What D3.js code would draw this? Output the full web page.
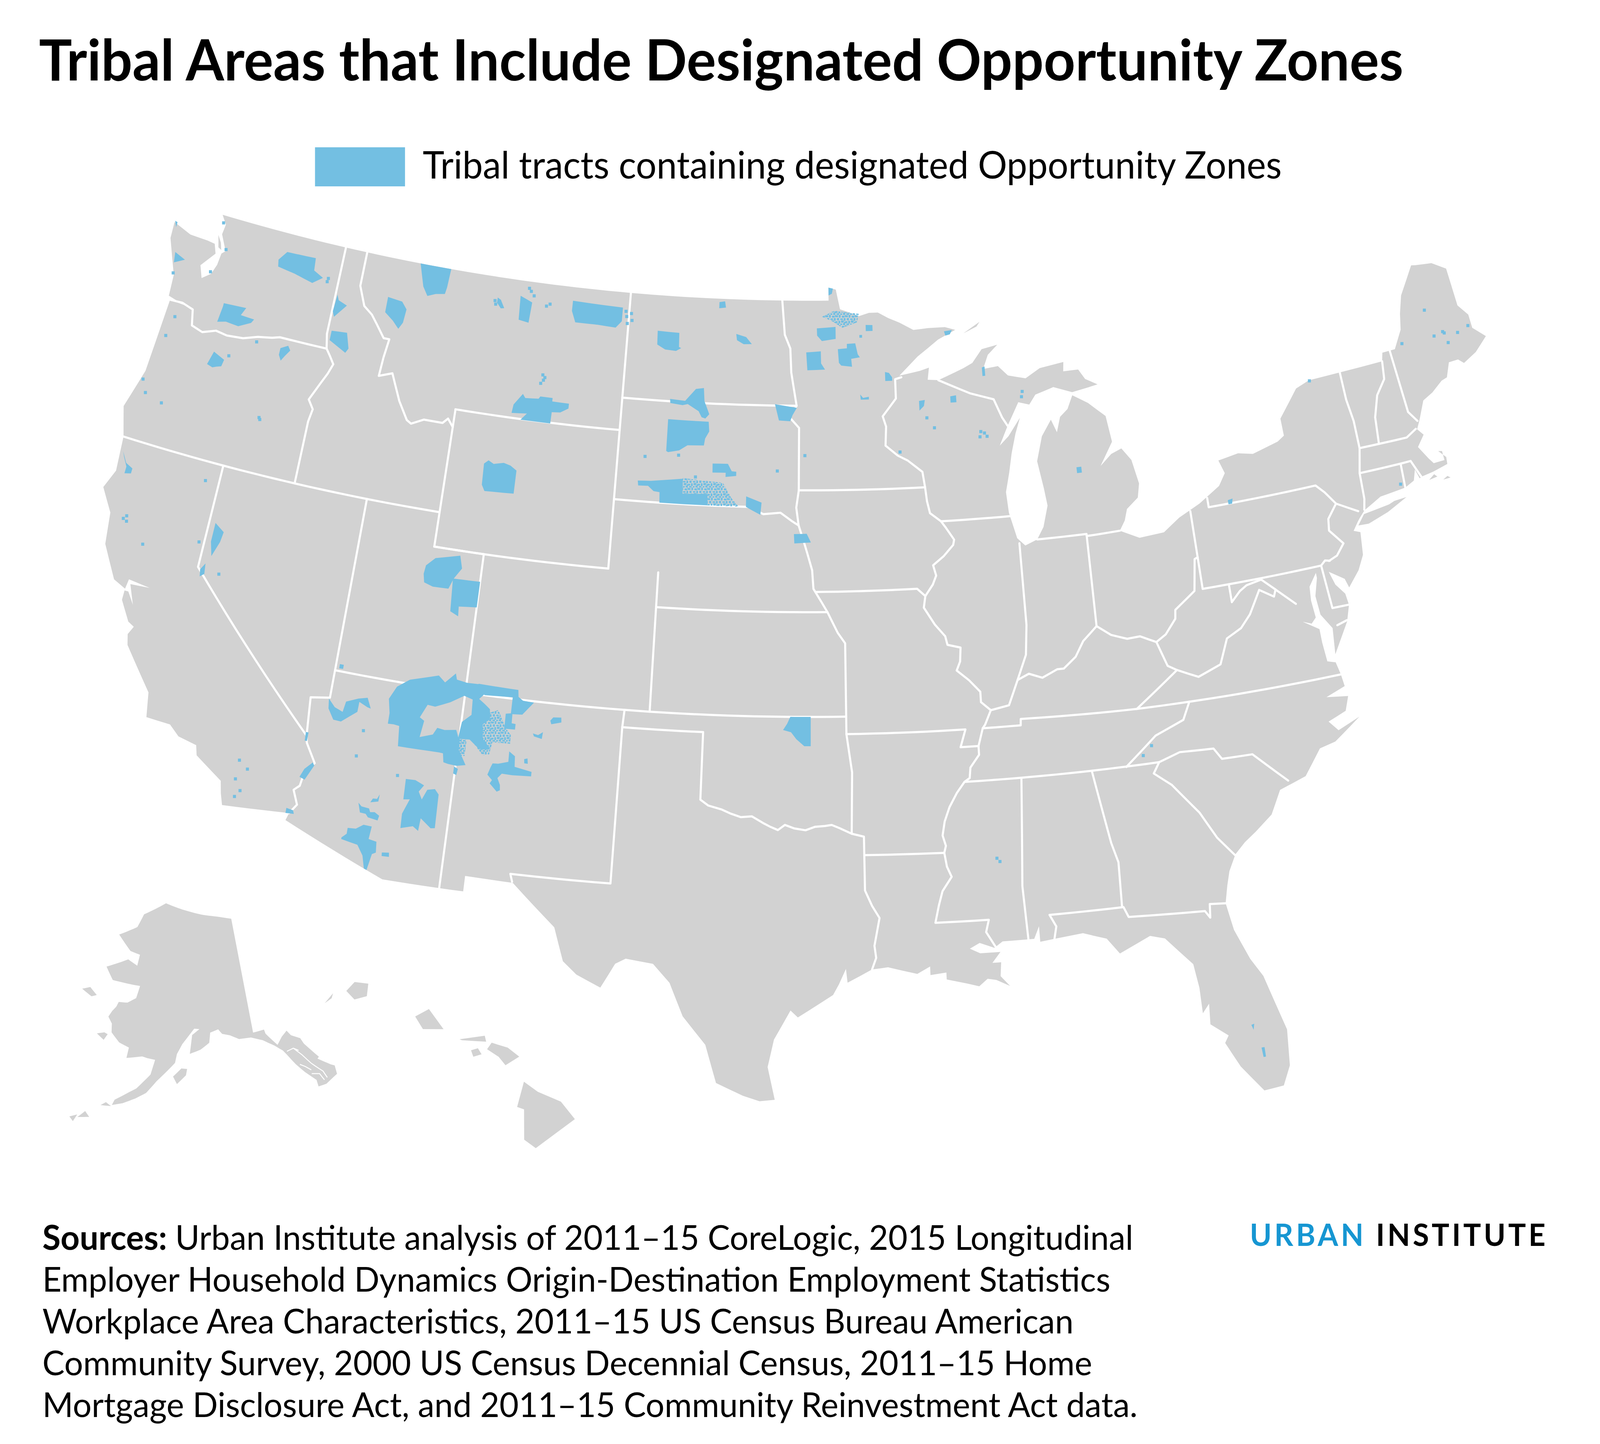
<!DOCTYPE html>
<html>
<head>
<meta charset="utf-8">
<script src="https://cdn.jsdelivr.net/npm/d3@7/dist/d3.min.js"></script>
<style>
  html, body { margin: 0; padding: 0; background: #fff; overflow: hidden; }
  svg { display: block; }
  text { font-family: Lato, sans-serif; fill: #000; }
</style>
</head>
<body>
<div id="chart"></div>
<script>
const width = 4231, height = 3696;

// lon/lat outlines
const land48 = [
  [[-122.76,49],[-117.03,49],[-116.05,49],[-111,49],[-104.05,49],[-97.23,49],[-95.15,49],[-95.15,49.38],[-94.82,49.32],[-94.64,48.74],[-94.25,48.65],[-93.8,48.53],[-93.35,48.62],[-92.95,48.62],[-92.5,48.45],[-92,48.3],[-91.4,48.07],[-90.75,48.1],[-90,48.1],[-89.55,48],
   [-90.33,47.75],[-91.27,47.29],[-92.1,46.76],[-91.2,46.87],[-90.8,46.95],[-90.88,46.6],[-90.42,46.57],[-89.3,46.87],[-88.9,47],[-88.45,47.38],[-87.75,47.47],[-88.2,47.2],[-88.45,46.8],[-87.8,46.85],[-87.4,46.55],[-86.65,46.42],[-86,46.67],[-84.95,46.77],[-85,46.5],[-84.35,46.5],[-84.1,46.2],[-83.6,46],[-84,45.95],[-84.72,45.87],
   [-85.5,46.08],[-86.3,45.92],[-86.6,45.65],[-87.06,45.75],[-87.6,45.1],[-88,44.55],[-87.6,44.8],[-87.05,45.3],[-87.3,44.85],[-87.53,44.3],[-87.7,43.75],[-87.9,43.2],[-87.85,42.6],[-87.6,41.85],[-87.3,41.62],[-86.8,41.76],[-86.5,42.1],[-86.25,42.7],[-86.33,43.2],[-86.5,44],[-86.2,44.7],[-85.75,45.15],[-85.55,44.77],[-85.35,45.2],[-85,45.4],[-84.73,45.78],
   [-84.1,45.5],[-83.43,45.06],[-83.3,44.3],[-83.9,43.65],[-83.4,43.95],[-82.95,44.07],[-82.6,43.7],[-82.42,43],[-82.55,42.6],[-83.05,42.32],[-83.2,42],[-83.45,41.73],[-82.7,41.45],[-81.7,41.5],[-81,41.85],[-80.1,42.15],[-79.2,42.55],[-78.88,42.88],[-79.05,43.27],[-78.2,43.37],[-77.6,43.27],[-76.5,43.47],[-76.2,43.6],[-76.2,44.1],[-75.3,44.85],[-74.7,45],[-73.35,45.01],[-71.5,45.01],
   [-71.4,45.25],[-70.85,45.25],[-70.4,45.75],[-70.25,46.2],[-70,46.7],[-69.23,47.46],[-69.05,47.43],[-68.35,47.35],[-67.8,47.07],[-67.78,45.95],[-67.45,45.6],[-67.45,45.2],[-67,44.85],
   [-67.6,44.5],[-68.2,44.3],[-68.4,44.45],[-68.8,44.45],[-69.05,44.05],[-69.3,44],[-69.8,43.75],[-70.25,43.6],[-70.6,43.1],[-70.8,42.85],[-70.6,42.65],[-70.95,42.35],[-70.65,41.95],[-70.5,41.78],[-70.05,41.78],[-70.05,42.05],[-70.2,42.08],[-69.95,41.85],[-69.98,41.65],[-70.6,41.55],[-71.1,41.5],[-71.2,41.47],[-71.3,41.75],[-71.45,41.45],[-71.85,41.32],[-72.9,41.25],[-73.65,40.98],[-73.9,40.8],[-74.02,40.7],
   [-74.25,40.48],[-74,40.4],[-74.1,39.75],[-74.4,39.35],[-74.9,38.93],[-75,39.2],[-75.55,39.5],[-75.4,39.1],[-75.1,38.78],[-75.05,38.45],[-75.25,38],[-75.95,37.15],[-75.85,37.9],[-76.2,38.35],[-76.25,38.9],[-76.05,39.4],[-76.05,39.55],[-76.4,39.2],[-76.45,38.8],[-76.4,38.3],[-76.6,38.15],[-77.2,38.35],[-77.05,38.75],[-77.1,38.35],[-76.35,37.95],[-76.35,37.55],[-76.3,37],[-76,36.92],[-75.9,36.55],[-75.85,36.2],[-76.6,36],[-75.8,35.9],[-76,35.5],[-76.7,35.3],[-76.4,35],[-75.55,35.25],[-76.6,34.7],[-77.2,34.6],[-77.9,33.9],[-78.9,33.65],[-79.35,33],[-80,32.6],[-80.45,32.35],[-80.85,32.05],[-81.15,31.6],[-81.3,31.2],[-81.45,30.7],
   [-81.3,29.9],[-80.9,29],[-80.55,28.45],[-80.05,26.8],[-80.15,25.75],[-80.45,25.2],[-81.1,25.15],[-81.75,25.95],[-82.15,26.7],[-82,26.9],[-82.55,27.3],[-82.5,27.9],[-82.75,27.65],[-82.75,28.4],[-82.85,29.1],[-83.7,29.95],[-84.2,30.08],[-85.3,29.68],[-85.7,30.15],[-86.5,30.38],[-87.5,30.3],[-88,30.25],[-88,30.7],[-88.2,30.35],[-89.3,30.35],[-89.6,30.18],[-90.1,30.35],[-90.45,30.2],[-90.1,30.05],[-89.4,30.05],[-89.7,29.75],[-89.4,29.75],[-89.45,29.35],[-89.15,29.05],[-89.6,29.25],[-89.9,29.3],[-90.2,29.1],[-90.6,29.2],[-91.3,29.35],[-91.3,29.55],[-91.85,29.5],[-91.85,29.75],[-92.3,29.55],[-93.3,29.77],[-93.85,29.72],[-94.7,29.35],[-94.75,29.75],[-95,29.3],[-95.2,29],[-96.4,28.35],[-96.65,28.55],[-97.2,27.7],[-97.4,26.9],[-97.15,25.95],
   [-97.65,25.9],[-98.2,26.05],[-99.1,26.4],[-99.5,27.5],[-100.3,28.3],[-100.8,29.25],[-101.4,29.77],[-102.35,29.87],[-102.7,29.7],[-103.15,28.98],[-104,29.3],[-104.5,29.65],[-104.9,30.6],[-106.5,31.75],[-108.2,31.78],[-108.2,31.33],[-111.07,31.33],[-114.8,32.5],[-114.72,32.72],[-117.12,32.53],
   [-117.25,32.85],[-117.35,33.2],[-118.4,33.75],[-118.5,34.03],[-119.2,34.15],[-119.6,34.42],[-120.5,34.45],[-120.65,35.15],[-121.85,36.3],[-121.95,36.6],[-121.8,36.85],[-122.05,36.95],[-122.5,37.5],[-122.5,37.78],[-122.35,37.78],[-122.05,37.45],[-122.35,38],[-121.6,38.05],[-122.45,38.12],[-122.5,37.83],[-123,38],[-123.7,38.9],[-123.85,39.8],[-124.4,40.44],[-124.1,41],[-124.2,42],[-124.55,42.84],[-124.1,44],[-123.95,46.18],[-123.3,46.15],[-124.05,46.28],[-124.1,46.9],[-124.7,47.9],[-124.73,48.38],[-123.9,48.17],[-123.1,48.15],[-122.75,48.12],[-122.6,47.85],[-123.1,47.4],[-122.9,47.05],[-122.55,47.25],[-122.4,47.55],[-122.35,47.9],[-122.2,48],[-122.55,48.45],[-122.5,48.75]],
  [[-74.02,40.6],[-73.6,40.58],[-72.75,40.77],[-71.9,41.05],[-72.4,41.03],[-72.65,40.97],[-73.7,40.88]],
  [[-89.2,47.88],[-88.45,48.18],[-88.6,48.05]],
  [[-122.7,48.4],[-122.5,48.2],[-122.4,48],[-122.55,48.05]],
  [[-70.85,41.35],[-70.5,41.38],[-70.6,41.47]],
  [[-70.3,41.25],[-70,41.25],[-70.1,41.32]]
];

const stateBorders = [
  [[-123.95,46.18],[-123.4,46.2],[-122.9,46.1],[-122.75,45.65],[-122.25,45.55],[-121.7,45.7],[-121.2,45.65],[-120.5,45.7],[-119.9,45.85],[-119.3,45.93],[-118.98,46],[-116.92,46]],
  [[-117.03,49],[-117.04,46.42],[-116.92,46]],
  [[-116.92,46],[-116.7,45.8],[-116.5,45.6],[-116.65,45.3],[-116.85,45],[-117.2,44.45],[-116.95,44.2],[-117.03,43.83],[-117.03,42]],
  [[-116.05,49],[-116.05,48],[-115.7,47.45],[-115.3,47.25],[-115,47],[-114.6,46.65],[-114.35,46.65],[-114.45,46.1],[-114.5,45.55],[-113.95,45.7],[-113.75,45.4],[-113.45,44.95],[-113,44.45],[-112.8,44.37],[-112.3,44.55],[-111.5,44.55],[-111.3,44.7],[-111.05,44.48]],
  [[-111.05,45],[-111.05,41]],[[-111.05,45],[-104.05,45]],[[-111.05,41],[-104.05,41]],[[-104.05,49],[-104.05,41]],
  [[-124.2,42],[-111.05,42]],[[-111.05,41],[-109.05,41],[-109.05,31.33]],
  [[-120,42],[-120,39],[-114.63,35]],[[-114.04,42],[-114.04,36.2],[-114.75,36.1],[-114.63,35]],
  [[-114.63,35],[-114.57,34.8],[-114.15,34.27],[-114.45,34],[-114.53,33.55],[-114.72,33.4],[-114.5,33],[-114.72,32.72]],
  [[-114.04,37],[-94.62,37]],[[-103,37],[-103.04,36.5],[-103.06,32],[-106.62,32],[-106.53,31.78]],
  [[-103.04,36.5],[-100,36.5],[-100,34.56],[-99.7,34.4],[-99.2,34.3],[-98.9,34.2],[-98.5,34.1],[-98.1,34.13],[-97.7,33.95],[-97.45,33.85],[-97.15,33.75],[-96.9,33.9],[-96.55,33.8],[-96.15,33.75],[-95.8,33.85],[-95.45,33.87],[-95.2,33.9],[-94.9,33.8],[-94.48,33.64],[-94.04,33.55],[-94.04,32],[-93.8,31.55],[-93.55,31.2],[-93.75,30.4],[-93.7,30.05],[-93.85,29.72]],
  [[-94.48,33.64],[-94.43,35.4],[-94.62,36.5],[-94.62,39.1],[-94.9,39.4],[-95.3,40]],
  [[-94.62,36.5],[-90.15,36.5],[-90.37,36],[-89.7,36]],
  [[-102.05,41],[-102.05,37]],[[-102.05,40],[-95.3,40]],
  [[-104.05,43],[-98.5,43],[-97.9,42.8],[-97.2,42.85],[-96.7,42.6],[-96.45,42.49]],[[-104.05,45.94],[-96.56,45.94]],
  [[-97.23,49],[-97.1,48],[-96.85,47.6],[-96.8,46.9],[-96.56,45.94],[-96.85,45.6],[-96.45,45.3],[-96.45,43.5],[-96.55,43],[-96.45,42.49],[-96.25,42.05],[-96.1,41.7],[-95.9,41.2],[-95.85,40.67],[-95.5,40.25],[-95.3,40]],
  [[-95.77,40.58],[-91.73,40.6],[-91.42,40.38]],[[-96.45,43.5],[-91.22,43.5]],
  [[-92.02,46.71],[-92.29,46.66],[-92.29,46.1],[-92.88,45.6],[-92.75,45.3],[-92.8,44.75],[-92.3,44.45],[-91.9,44.3],[-91.3,43.95],[-91.22,43.5],[-91.17,43.1],[-91.07,42.75],[-90.64,42.5],[-90.45,42.3],[-90.15,41.95],[-90.2,41.8],[-90.6,41.5],[-91.05,41.25],[-90.95,40.95],[-91.1,40.7],[-91.42,40.38],[-91.5,40.05],[-91.1,39.55],[-90.72,39.2],[-90.65,38.95],[-90.15,38.85],[-90.2,38.45],[-90.35,38.2],[-89.9,37.9],[-89.5,37.55],[-89.5,37.25],[-89.15,37],[-89.4,36.6],[-89.5,36.5],[-89.7,36],[-89.7,35.75],[-90.05,35.4],[-90.1,35.1],[-90.3,35],[-90.6,34.7],[-90.9,34.3],[-91.1,33.9],[-91.2,33.5],[-91.1,33.2],[-91.17,33],[-91.1,32.6],[-90.95,32.3],[-91.3,31.9],[-91.45,31.5],[-91.6,31],[-89.73,31],[-89.85,30.65],[-89.55,30.2]],
  [[-90.64,42.5],[-87.8,42.5]],[[-90.42,46.57],[-89.1,46.13],[-88.1,45.9],[-87.8,45.35],[-87.6,45.1]],
  [[-87.53,41.7],[-87.53,39.35],[-87.65,38.5],[-88.05,37.8],[-88.45,37.1],[-89.15,37]],
  [[-86.8,41.76],[-84.8,41.76],[-84.82,39.1]],[[-84.8,41.7],[-83.45,41.73]],
  [[-88.05,37.8],[-87.6,37.95],[-87.1,37.8],[-86.5,38],[-86.25,38],[-85.75,38.3],[-85.4,38.72],[-84.82,39.1],[-84.3,38.8],[-83.7,38.63],[-83.2,38.65],[-82.6,38.42],[-82.2,38.6],[-81.75,39],[-81.7,39.25],[-80.85,39.7],[-80.65,40.6],[-80.52,40.64]],
  [[-82.6,38.42],[-82.3,37.7],[-81.97,37.54],[-83.67,36.6]],
  [[-89.5,36.5],[-88.07,36.5],[-88.05,36.68],[-83.67,36.6],[-75.87,36.55]],
  [[-81.68,36.59],[-82,36.1],[-83.1,35.77],[-84.32,34.99]],
  [[-90.3,35],[-83.1,35]],[[-94.04,33.02],[-91.17,33]],
  [[-88.2,35],[-88.47,31.9],[-88.4,30.3]],
  [[-85.6,35],[-85.18,32.87],[-85,32.3],[-85.05,31]],[[-87.5,30.3],[-87.4,30.65],[-87.6,31],[-85,31],[-84.86,30.7],[-82.2,30.57],[-82.05,30.36],[-82,30.75],[-81.45,30.7]],
  [[-83.1,35],[-83.35,34.7],[-82.75,34.3],[-81.9,33.4],[-81.4,32.6],[-80.87,32.03]],
  [[-83.1,35],[-82.3,35.2],[-81.05,35.15],[-80.8,34.82],[-79.67,34.8],[-78.55,33.87]],
  [[-81.97,37.54],[-81.2,37.25],[-80.3,37.5],[-79.9,38.2],[-79.3,38.42],[-78.87,38.76],[-78.35,39.4],[-77.83,39.13],[-77.72,39.32],[-77.05,38.8]],
  [[-77.72,39.32],[-78.2,39.68],[-78.8,39.6],[-79.1,39.47],[-79.48,39.2],[-79.48,39.72]],
  [[-80.52,41.98],[-80.52,39.72],[-75.79,39.72]],
  [[-79.76,42.27],[-79.76,42],[-75.35,42],[-75.05,41.75],[-74.7,41.36],[-75.13,40.98],[-75.2,40.65],[-74.75,40.2],[-75.1,39.9],[-75.45,39.8]],
  [[-74.7,41.36],[-73.9,41]],[[-75.42,39.8],[-75.6,39.84],[-75.79,39.72],[-75.7,38.46],[-75.05,38.45]],[[-75.65,37.95],[-75.25,38.03]],
  [[-73.35,45.01],[-73.35,44.2],[-73.25,43.55],[-73.27,42.75],[-73.5,42.05],[-73.55,41.3],[-73.65,41]],
  [[-71.5,45.01],[-71.6,44.5],[-72.05,44.1],[-72.35,43.5],[-72.46,42.73]],
  [[-71.08,45.3],[-70.98,43.4],[-70.7,43.08]],[[-73.27,42.75],[-71.3,42.7],[-70.85,42.87]],
  [[-73.5,42.05],[-71.8,42.02],[-71.38,42.02],[-71.12,41.5]],[[-71.8,42.02],[-71.85,41.32]]
];

const alaskaLand = [
  [[-141,69.65],[-141,60.3],[-139.1,60.35],[-139,60],[-137.5,58.9],[-136.5,59.45],[-135.5,59.8],[-135,59.35],[-133.7,58.9],[-133.4,58.4],[-131.8,57],[-132.1,56.9],[-130.5,56.1],[-130,55.9],[-130.1,55.2],[-131,55],[-132,54.75],[-133.2,54.75],[-133.2,55.3],[-134.5,56.2],[-135.5,57],[-136.4,57.9],[-136.9,58.35],[-138,58.9],[-139.7,59.55],[-141.5,59.95],[-143.5,60],[-144.9,60.4],[-146.2,60.6],[-146.8,61],[-148.2,60.8],[-148.5,60],[-150,59.5],[-151.8,59.2],[-151.6,59.8],[-151.3,60.7],[-150,61.15],[-150.9,61.2],[-151.8,60.7],[-153,60],[-153.9,59.2],[-154.2,58.5],[-155.5,57.8],[-157,57],[-158.5,56],[-160,55.5],[-161.8,55],[-163.3,54.75],[-163,55.2],[-161,55.95],[-160,56.3],[-158,57.5],[-157.4,58.7],[-158.7,58.8],[-159.5,58.9],[-162,58.65],[-161.8,59.5],[-163.5,59.8],[-165,60.5],[-165.2,61.2],[-166,61.7],[-165.5,62.2],[-164.9,62.6],[-164.6,63],[-163,63.05],[-161.5,63.5],[-161,64.5],[-163,64.55],[-166.4,64.65],[-168.1,65.6],[-164,66.5],[-162,66.1],[-161.7,67],[-163.8,67.2],[-166.8,68.35],[-163,69.2],[-161.8,70.3],[-156.6,71.35],[-152.5,70.85],[-148,70.35],[-144,70]],
  [[-154.5,57.4],[-153.9,56.8],[-152.5,57.5],[-152.3,58],[-153.2,58.05]],
  [[-167.4,60.2],[-166.1,59.8],[-165.6,60.3],[-166.2,60.4]],
  [[-171.7,63.4],[-170.3,63.7],[-168.8,63.2],[-169.7,63]],
  [[-164.9,54.6],[-163.4,54.65],[-164.2,54.9]],
  [[-166.9,53.9],[-167.8,53.3],[-166.2,53.5]],
  [[-168.9,53.2],[-167.9,53.5],[-168.3,52.9]]
];
const alaskaChannels = [
  [[-135.2,58.3],[-134.2,57.6],[-133.2,56.7],[-131.9,55.8],[-131.6,55.2]],
  [[-136.3,58.2],[-135.2,58.3],[-134.5,58]],
  [[-134.9,56.9],[-134.2,56.6],[-133.5,56.2]],
  [[-133.6,55.9],[-132.5,55.7],[-132.1,55.1]]
];

const hawaiiLand = [
  [[-159.78,22.05],[-159.6,22.23],[-159.3,22.2],[-159.33,21.95],[-159.6,21.88]],
  [[-160.25,21.8],[-160.07,22],[-160.1,21.9]],
  [[-158.27,21.55],[-157.97,21.7],[-157.65,21.3],[-158.1,21.3]],
  [[-157.3,21.1],[-156.75,21.17],[-156.72,21.05],[-157.25,21.08]],
  [[-157.05,20.88],[-156.9,20.92],[-156.82,20.8],[-157,20.75]],
  [[-156.7,20.9],[-156.6,21.03],[-156.25,20.93],[-156,20.75],[-156.3,20.58],[-156.45,20.75]],
  [[-155.9,20.25],[-155.6,20.05],[-155.1,19.85],[-154.8,19.5],[-155.65,18.93],[-155.9,19.1],[-155.9,19.7],[-156.05,19.75]]
];

// areas with designated tracts; rings inside rings leave gaps (even-odd fill)
const tribalAreas = [
  // Navajo, with the gap that holds Hopi
  [[[-111.86,36.48],[-111.63,36.86],[-111.19,37.12],[-110.13,37.37],[-109.86,37.2],[-109.5,37.5],[-109.43,37.33],[-109.03,37.28],[-108.57,37.29],[-108.32,37.03],[-108.5,36.87],[-108.27,36.75],[-108.05,36.62],[-108,36.34],[-108.25,36.16],[-108.18,35.75],[-107.9,35.53],[-107.93,35.46],[-108.29,35.46],[-108.66,35.68],[-109.02,35.66],[-109.01,35.35],[-108.69,34.94],[-109.01,34.88],[-109.34,34.9],[-109.51,34.93],[-109.57,35.18],[-109.71,35.19],[-111.25,35.18],[-111.32,35.76],[-111.53,35.78],[-111.75,35.77],[-111.75,36.08]],
   [[-109.07,36.9],[-108.74,36.83],[-108.71,36.39],[-109.03,36.15],[-109.09,35.7],[-109.2,35.9],[-109.63,35.85],[-109.91,35.88],[-110.04,35.67],[-110.51,35.54],[-110.43,36.02],[-110.61,36.1],[-110.39,36.49],[-110.1,36.47],[-109.56,36.66]]],
  [[[-108.6,37.3],[-107.07,37.27],[-107.03,37.05],[-108.32,37]]],
  [[[-107.25,37.05],[-107.03,37.07],[-106.85,36.98],[-106.43,36.96],[-106.82,36.58],[-107.19,36.56],[-107.18,36.3],[-107.03,36.29],[-107.03,36.13],[-107.43,36.12],[-107.44,36.55],[-107.25,36.58]]],
  [[[-109.1,34.85],[-108.95,34.8],[-108.98,34.62],[-109.1,34.65]]],
  [[[-107.71,35.09],[-107.5,35.1],[-107.14,35.19],[-107.15,35.49],[-106.92,35.37],[-106.89,35.07],[-106.25,34.98],[-106.25,34.85],[-106.95,34.82],[-107.33,34.83],[-107.47,34.69],[-107.35,34.5],[-107.33,34.35],[-107.44,34.3],[-107.73,34.51],[-107.66,34.61],[-107.85,34.75],[-107.77,34.96]]],
  [[[-106.57,35.32],[-106.45,35.35],[-106.42,35.2],[-106.55,35.2]]],
  [[[-105.75,36.5],[-105.65,36.6],[-105.35,36.62],[-105.33,36.48],[-105.7,36.4]]],
  [[[-106.35,36.08],[-106.15,36.05],[-105.98,36.15],[-106,35.95],[-106.3,36]]],
  // Arizona
  [[[-114.07,36.17],[-113.8,35.96],[-113.48,35.87],[-113.42,36.18],[-112.98,36.33],[-112.65,36.4],[-112.47,36.11],[-112.6,36.13],[-112.93,36.24],[-112.94,35.95],[-113.48,35.59],[-113.77,35.6],[-114.02,35.89]]],
  [[[-110.78,34.29],[-110.43,34.3],[-110.09,34.19],[-110.25,33.99],[-110.1,33.78],[-109.95,34.08],[-109.68,34.13],[-109.52,33.99],[-109.49,33.02],[-109.64,33],[-110.04,33.24],[-110.07,32.87],[-110.28,32.98],[-110.71,32.87],[-110.73,33.29],[-110.53,33.73],[-110.76,33.7]]],
  [[[-111.92,33.46],[-111.85,33.58],[-111.7,33.59],[-111.63,33.73],[-111.64,33.52]]],
  [[[-112.34,33.39],[-112.21,33.3],[-111.93,33.28],[-111.87,33.18],[-111.71,33.2],[-111.53,33.12],[-111.56,32.98],[-111.92,33.02],[-112.02,33.11],[-112.23,33.12]]],
  [[[-112.57,32.62],[-112.28,32.64],[-112.03,32.79],[-111.73,32.78],[-111.77,32.41],[-111.48,32.37],[-111.44,32.06],[-111.57,32],[-111.67,31.52],[-111.77,31.55],[-111.89,31.91],[-112.13,32.19],[-112.73,32.27],[-112.73,32.32],[-112.57,32.45]]],
  [[[-111.23,32.09],[-110.98,32.12],[-110.96,32],[-111.22,31.99]]],
  [[[-114.22,34.28],[-114.15,34.2],[-114.4,33.75],[-114.6,33.8],[-114.48,34.05]]],
  [[[-114.85,32.85],[-114.6,32.82],[-114.55,32.72],[-114.85,32.7]]],
  [[[-114.68,35.1],[-114.58,35.1],[-114.58,34.85],[-114.66,34.85]]],
  [[[-113.9,37.2],[-113.75,37.2],[-113.75,37.08],[-113.9,37.08]]],
  // Utah, Nevada, California
  [[[-111.3,40.18],[-111.26,40.43],[-110.93,40.68],[-109.97,40.86],[-109.83,40.5],[-110.1,40.18],[-110.25,39.87],[-110.87,39.86],[-111.23,39.94]]],
  [[[-110.13,40.18],[-109.05,40.2],[-109.05,39.46],[-109.75,39.41],[-109.72,39.13],[-110.05,39.24]]],
  [[[-119.75,40.35],[-119.35,40.15],[-119.4,39.85],[-119.6,39.4],[-119.75,39.8]]],
  [[[-119.9,38.95],[-119.75,39.15],[-119.7,38.85],[-119.85,38.75]]],
  [[[-124.05,41.6],[-123.95,41.45],[-123.75,41.2],[-123.75,41],[-123.5,41.05],[-123.5,41.2],[-123.8,41.3]]],
  // Washington, Oregon, Idaho
  [[[-124.72,48.42],[-124.6,48.4],[-124.6,48.25]]],
  [[[-124.32,47.55],[-123.82,47.42],[-124.25,47.25]]],
  [[[-119.84,48.18],[-119.54,48.46],[-118.24,48.49],[-118.19,48.13],[-117.74,47.98],[-118.15,47.76],[-119,47.9],[-119.78,47.98]]],
  [[[-121.75,45.96],[-121.68,46.43],[-121.68,46.53],[-120.69,46.57],[-120.84,46.33],[-120.24,46.31],[-120.33,46.19],[-120.83,46],[-121.39,46.03]]],
  [[[-121.55,45.1],[-121.05,44.95],[-121.1,44.75],[-121.3,44.7],[-121.45,44.65],[-121.7,44.7]]],
  [[[-118.85,45.7],[-118.55,45.82],[-118.42,45.7],[-118.6,45.5],[-118.72,45.35],[-118.85,45.5]]],
  [[[-116.95,47.6],[-116.85,47.45],[-116.45,47.35],[-116.9,46.95],[-117,47.1]]],
  [[[-116.87,46.54],[-116.2,46.58],[-116,46.14],[-116.1,46],[-116.87,46.26]]],
  // Montana, Wyoming
  [[[-113.6,49],[-112.2,49],[-112.25,48.45],[-112.3,48.25],[-112.7,48.2],[-113.05,48.1],[-113.3,48.35]]],
  [[[-114.75,47.85],[-114.1,47.8],[-113.85,47.6],[-113.9,47.2],[-114.05,47],[-114.35,47.2],[-114.75,47.4]]],
  [[[-109.95,48.4],[-109.8,48.35],[-109.6,48.12],[-109.75,48.1],[-109.95,48.25]]],
  [[[-108.95,48.55],[-108.4,48.4],[-108.45,47.8],[-108.9,47.85]]],
  [[[-106.6,48.6],[-104.35,48.55],[-104.35,48.15],[-104.6,47.95],[-105.4,47.98],[-106.4,47.98],[-106.6,48.3]]],
  [[[-108.68,45.14],[-108.64,45.39],[-108.3,45.73],[-108.18,45.62],[-107.61,45.65],[-107.55,45.72],[-107.02,45.72],[-107.02,45.62],[-106.3,45.61],[-106.3,45.47],[-106.63,45.33],[-106.99,45.31],[-107,44.98],[-108.27,44.98],[-108.03,45.18]]],
  [[[-109.54,43.58],[-109.37,43.69],[-109.14,43.61],[-108.73,43.68],[-108.44,43.63],[-108.17,43.51],[-108.17,42.84],[-109.37,42.8],[-109.51,42.97]]],
  // Dakotas, Nebraska, Oklahoma
  [[[-102.73,47.96],[-101.77,47.94],[-101.75,47.53],[-101.65,47.5],[-101.87,47.41],[-102.35,47.43],[-102.71,47.56]]],
  [[[-99.25,47.99],[-98.81,47.91],[-98.55,47.71],[-98.91,47.7],[-99.21,47.81]]],
  [[[-100.05,48.9],[-99.8,48.93],[-99.75,48.75],[-100.05,48.72]]],
  [[[-102,46.01],[-101.35,45.98],[-100.91,46.34],[-100.57,46.38],[-100.52,46],[-100.29,45.63],[-100.45,45.5],[-100.61,45.53],[-100.75,45.7],[-101.23,45.89],[-101.45,45.85],[-101.98,45.89]]],
  [[[-102.03,45.42],[-100.3,45.41],[-100.26,45.13],[-100.42,44.92],[-100.46,44.72],[-101.15,44.7],[-101.49,44.54],[-101.95,44.47],[-102.03,44.5]]],
  [[[-100.06,44.21],[-99.42,44.22],[-99.25,44.01],[-99.06,44],[-99.06,43.88],[-99.5,43.84],[-99.5,43.96],[-100.05,43.95]]],
  [[[-103.13,43.59],[-102.59,43.61],[-101.27,43.73],[-101.25,43.3],[-100.22,43.33],[-100.2,43],[-102.18,43],[-102.2,43.3],[-102.45,43.32],[-102.69,43.46],[-103.1,43.45]]],
  [[[-98.62,43.3],[-97.98,43.13],[-98.02,42.78],[-98.41,42.92],[-98.62,43]]],
  [[[-97.49,45.98],[-96.55,45.88],[-96.73,45.67],[-96.83,45.49],[-97.31,45.51]]],
  [[[-96.64,42.24],[-96.12,42.25],[-95.95,42],[-96.62,41.97]]],
  [[[-96.73,37],[-95.96,37],[-95.96,36.16],[-96.2,36.16],[-96.5,36.36],[-96.7,36.56],[-97,36.62],[-96.85,36.8]]],
  // Minnesota, Wisconsin, Michigan
  [[[-96.15,47.49],[-95.51,47.52],[-95.5,47.17],[-95.33,46.99],[-96.1,46.97]]],
  [[[-95.68,48.19],[-94.85,48.23],[-94.85,47.88],[-95.46,47.82],[-95.67,47.98]]],
  [[[-94.76,47.58],[-94.36,47.6],[-94.36,47.73],[-93.99,47.74],[-93.89,47.42],[-93.8,47.33],[-94.18,47.29],[-94.15,47.06],[-94.62,47.1],[-94.72,47.18]]],
  [[[-93.51,48.27],[-93.21,48.26],[-93.21,48.09],[-93.51,48.09]]],
  [[[-93.8,47.98],[-93.68,47.98],[-93.68,47.9],[-93.8,47.9]]],
  [[[-90.05,47.98],[-89.7,48],[-89.8,47.88],[-90,47.85]]],
  [[[-92.72,46.88],[-92.55,46.85],[-92.42,46.72],[-92.42,46.62],[-92.72,46.62]]],
  [[[-93.82,46.25],[-93.8,46.1],[-93.45,46.1],[-93.45,46.18],[-93.7,46.15]]],
  [[[-95.15,49.38],[-94.95,49.35],[-95,49.2],[-95.15,49.15]]],
  [[[-91.3,46],[-91.05,46.02],[-91.1,45.85],[-91.3,45.72]]],
  [[[-89.95,46.08],[-89.7,46.1],[-89.7,45.9],[-89.95,45.9]]],
  [[[-88.5,46.85],[-88.38,46.87],[-88.38,46.6],[-88.5,46.6]]],
  [[[-84.9,43.7],[-84.7,43.7],[-84.7,43.53],[-84.9,43.53]]],
  // odd ones east and south
  [[[-78.95,42.1],[-78.75,42.12],[-78.8,41.98],[-78.95,41.98]]],
  [[[-80.98,26.4],[-80.88,26.4],[-80.88,26.12],[-80.96,26.12]]],
  [[[-81.2,27.1],[-81.1,27.12],[-81.15,26.95]]]
];

// areas where the tracts are a fine checkerboard
const speckledAreas = [
  [[-108.16,36.48],[-107.73,36.63],[-107.39,36.15],[-107.16,35.96],[-107.15,35.71],[-107.81,35.69],[-107.88,35.32],[-108.12,35.29],[-108.46,35.56],[-108.28,35.94]],
  [[-109.07,35.65],[-108.77,35.66],[-108.77,35.19],[-109.07,35.19]],
  [[-101.27,43.75],[-99.6,43.67],[-99.23,43.24],[-98.92,43],[-100.2,43],[-100.22,43.33],[-101.25,43.3]],
  [[-95.45,48.53],[-94.9,48.7],[-93.8,48.6],[-93.9,48.35],[-94.55,48.2],[-95,48.4]]
];

// tiny tracts, one small square each
const smallTracts = [
  [-122.62,48.78],[-122.2,48.05],[-122.6,47.3],[-124.15,46.95],[-117.5,48],[-117.52,47.9],
  [-123.55,45.75],[-123.7,45.15],[-124.1,43.75],[-123.85,43.4],[-123.1,43.25],[-119.05,43.6],[-119,43.55],[-120.9,45.1],[-119.9,45.7],
  [-123.3,39.75],[-123.15,39.7],[-123.2,39.85],[-120.55,41.45],[-122.3,39.2],[-120.2,39.7],[-119.15,38.95],[-116.5,33.7],[-116.85,33.9],[-116.85,33.35],[-116.75,32.85],[-116.6,33.05],
  [-107.55,46.35],[-107.5,46.2],[-107.6,46.1],[-107.45,46.28],[-110.05,48.3],[-110,48.2],[-108.6,48.8],[-108.5,48.72],[-108.35,48.6],[-107.75,48.35],[-107.6,48.42],
  [-104.2,48.45],[-104.15,48.3],[-104.1,48.1],[-103.95,48.4],[-103.9,48.2],[-100.75,43.8],[-101.5,44.4],[-102.9,44.3],
  [-97.35,44.05],[-96.2,44.5],[-92.2,44.55],[-91,45.5],[-90.7,45.2],[-88.75,45],[-88.6,44.95],[-88.5,44.85],[-88.8,44.85],[-86.9,45.9],[-86.85,46.05],
  [-83.3,35.5],[-83.65,35.25],[-89.3,32.75],[-89.2,32.65],[-74.68,44.98],[-72,41.45],
  [-67.6,45.3],[-68.1,45.2],[-68.7,45.35],[-68.65,45.3],[-68.6,45],[-69.2,46.1],[-69.1,45.3],[-70.5,45.35],[-112.6,35.45],[-112.7,34.7],[-111.1,34.35]
];

// title, legend and notes
const titleText = "Tribal Areas that Include Designated Opportunity Zones";
const legendText = "Tribal tracts containing designated Opportunity Zones";
const sourceLines = [
  "Urban Institute analysis of 2011–15 CoreLogic, 2015 Longitudinal",
  "Employer Household Dynamics Origin-Destination Employment Statistics",
  "Workplace Area Characteristics, 2011–15 US Census Bureau American",
  "Community Survey, 2000 US Census Decennial Census, 2011–15 Home",
  "Mortgage Disclosure Act, and 2011–15 Community Reinvestment Act data."
];

const landColor = "#d2d2d2", tribalColor = "#73bfe2";

// the window can come out narrower than asked, so the drawing fills whatever it gets
const svg = d3.select("#chart").append("svg")
  .style("width", "100vw")
  .style("height", "100vh")
  .attr("viewBox", `0 0 ${width} ${height}`)
  .attr("preserveAspectRatio", "none");

const lower48 = d3.geoAlbers().scale(5070).translate([2100, 1683]);
const alaska = d3.geoConicEqualArea().rotate([154, 0]).center([-2, 58.5]).parallels([55, 65])
  .scale(1825).translate([433, 2720]);
const hawaii = d3.geoConicEqualArea().rotate([157, 0]).center([-3, 19.9]).parallels([8, 18])
  .scale(7400).translate([886, 2812]);

// long straight lon/lat segments have to bend with the projection
function densify(coords) {
  const out = []
  for (let i = 0; i < coords.length - 1; i++) {
    const a = coords[i], b = coords[i + 1]
    const n = Math.ceil(Math.max(Math.abs(b[0] - a[0]), Math.abs(b[1] - a[1])) / 0.5)
    for (let j = 0; j < n; j++) out.push([a[0] + (b[0] - a[0]) * j / n, a[1] + (b[1] - a[1]) * j / n])
  }
  out.push(coords[coords.length - 1])
  return out
}

const line = d3.line()
const ringPath = (ring, proj) => line(densify([...ring, ring[0]]).map(proj)) + "Z"
const linePath = (coords, proj) => line(densify(coords).map(proj))

// the checkerboard fill
const pattern = svg.append("defs").append("pattern")
  .attr("id", "speckle")
  .attr("patternUnits", "userSpaceOnUse")
  .attr("width", 26).attr("height", 26)
const speckleBits = [[0,1,6,5],[8,0,5,7],[16,2,7,5],[24,0,2,6],[3,8,6,6],[12,9,7,4],[21,8,5,7],[0,16,5,5],[7,15,5,7],[14,14,7,6],[22,17,4,5],[2,22,7,4],[12,22,5,4],[19,21,6,5]]
pattern.selectAll("rect").data(speckleBits).join("rect")
  .attr("x", d => d[0]).attr("y", d => d[1])
  .attr("width", d => d[2]).attr("height", d => d[3])
  .attr("fill", tribalColor)

// land
svg.append("g").selectAll("path").data(land48).join("path")
  .attr("d", d => ringPath(d, lower48)).attr("fill", landColor)
svg.append("g").selectAll("path").data(alaskaLand).join("path")
  .attr("d", d => ringPath(d, alaska)).attr("fill", landColor)
svg.append("g").selectAll("path").data(alaskaChannels).join("path")
  .attr("d", d => linePath(d, alaska)).attr("fill", "none").attr("stroke", "#fff").attr("stroke-width", 2.5)
svg.append("g").selectAll("path").data(hawaiiLand).join("path")
  .attr("d", d => ringPath(d, hawaii)).attr("fill", landColor)

// state lines
svg.append("g").selectAll("path").data(stateBorders).join("path")
  .attr("d", d => linePath(d, lower48))
  .attr("fill", "none").attr("stroke", "#fff").attr("stroke-width", 5.5)
  .attr("stroke-linejoin", "round").attr("stroke-linecap", "round")

// tribal areas sit on top of the state lines
svg.append("g").selectAll("path").data(speckledAreas).join("path")
  .attr("d", d => ringPath(d, lower48)).attr("fill", "url(#speckle)")
svg.append("g").selectAll("path").data(tribalAreas).join("path")
  .attr("d", rings => rings.map(r => ringPath(r, lower48)).join(""))
  .attr("fill", tribalColor).attr("fill-rule", "evenodd")
svg.append("g").selectAll("rect").data(smallTracts).join("rect")
  .attr("x", d => lower48(d)[0] - 4).attr("y", d => lower48(d)[1] - 4)
  .attr("width", 8).attr("height", 8).attr("fill", tribalColor)

// title
svg.append("text").attr("x", 103).attr("y", 206)
  .attr("font-size", 146).attr("font-weight", 700).text(titleText)

// legend
svg.append("rect").attr("x", 833).attr("y", 377).attr("width", 238).attr("height", 100).attr("fill", tribalColor)
svg.append("text").attr("x", 1118).attr("y", 457).attr("font-size", 96.5).text(legendText)

// sources
const source = svg.append("g").attr("font-size", 88)
source.append("text").attr("x", 112).attr("y", 3199)
  .call(t => t.append("tspan").attr("font-weight", 700).text("Sources: "))
  .call(t => t.append("tspan").text(sourceLines[0]))
source.selectAll("text.l").data(sourceLines.slice(1)).join("text")
  .attr("class", "l").attr("x", 112).attr("y", (d, i) => 3199 + (i + 1) * 107).text(d => d)

// logo
const logo = svg.append("text").attr("x", 3305).attr("y", 3189)
  .attr("font-size", 78).attr("font-weight", 700).attr("letter-spacing", 7)
logo.append("tspan").style("fill", "#1696d2").text("URBAN ")
logo.append("tspan").style("fill", "#000").text("INSTITUTE")
</script>
</body>
</html>
